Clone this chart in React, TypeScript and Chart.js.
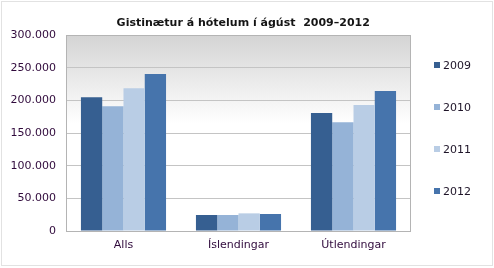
import React, { useEffect, useRef } from "react";
import { Chart, registerables } from "chart.js";

Chart.register(...registerables);

const TITLE = "Gistinætur á hótelum í ágúst  2009–2012";
const categories = ["Alls", "Íslendingar", "Útlendingar"];
const years = ["2009", "2010", "2011", "2012"];
const v2009 = [204600, 24500, 180600];
const v2010 = [190800, 24500, 166300];
const v2011 = [218400, 27000, 192900];
const v2012 = [240300, 26000, 214300];
const colors = ["#365f91", "#95b3d7", "#b9cde5", "#4674ac"];
const yMax = 300000;
const yStep = 50000;

const FONT = "'DejaVu Sans', Verdana, sans-serif";

function fmt(v: number): string {
  return String(Math.round(v)).replace(/\B(?=(\d{3})+(?!\d))/g, ".");
}

const framePlugin = {
  id: "frame",
  beforeDraw(chart: any) {
    const { ctx, chartArea } = chart;
    const { left, top, right, bottom } = chartArea;
    ctx.save();
    ctx.fillStyle = "#ffffff";
    ctx.fillRect(0, 0, chart.width, chart.height);
    ctx.strokeStyle = "#e2e2e2";
    ctx.lineWidth = 1;
    ctx.strokeRect(1.5, 1.5, chart.width - 3, chart.height - 4);
    const g = ctx.createLinearGradient(0, top, 0, bottom);
    g.addColorStop(0, "#d4d4d4");
    g.addColorStop(0.45, "#ffffff");
    g.addColorStop(1, "#ffffff");
    ctx.fillStyle = g;
    ctx.fillRect(left, top, right - left, bottom - top);
    ctx.restore();
  },
  afterDatasetsDraw(chart: any) {
    const { ctx, chartArea } = chart;
    const { left, top, right, bottom } = chartArea;
    ctx.save();
    ctx.strokeStyle = "#b4b4b4";
    ctx.lineWidth = 1;
    ctx.strokeRect(Math.round(left) + 0.5, Math.round(top) + 0.5, Math.round(right - left) - 1, Math.round(bottom - top));
    // legend
    ctx.font = "11px " + FONT;
    ctx.textBaseline = "middle";
    ctx.textAlign = "left";
    chart.data.datasets.forEach((ds: any, i: number) => {
      const y = top + 30 + i * 42;
      const x = right + 23;
      ctx.fillStyle = ds.backgroundColor;
      ctx.fillRect(x, y - 3, 6, 6);
      ctx.fillStyle = "#1e1428";
      ctx.fillText(ds.label, x + 9, y + 1);
    });
    ctx.restore();
  },
};

export default function App() {
  const ref = useRef<HTMLCanvasElement | null>(null);
  useEffect(() => {
    if (!ref.current) return;
    const series = [v2009, v2010, v2011, v2012];
    const chart = new Chart(ref.current, {
      type: "bar",
      data: {
        labels: categories,
        datasets: years.map((y, i) => ({
          label: y,
          data: series[i],
          backgroundColor: colors[i],
          borderWidth: 0,
          categoryPercentage: 0.74,
          barPercentage: 1,
        })),
      },
      options: {
        responsive: false,
        animation: false,
        devicePixelRatio: 1,
        layout: { padding: { left: 0.5, right: 8, top: 0, bottom: 7.8 } },
        plugins: {
          legend: { display: false },
          tooltip: { enabled: false },
          title: {
            display: true,
            text: TITLE,
            color: "#141414",
            font: { family: FONT, size: 11, weight: "bold", lineHeight: 1.2 },
            padding: { top: 16.5, bottom: 5.3 },
          },
        },
        scales: {
          x: {
            grid: { display: false, drawTicks: false },
            border: { display: false },
            ticks: {
              color: "#300a3c",
              font: { family: FONT, size: 11, lineHeight: 1.2 },
              padding: 8,
            },
          },
          y: {
            min: 0,
            max: yMax,
            grid: { color: "#c4c4c4", drawTicks: false },
            border: { display: false },
            ticks: {
              stepSize: yStep,
              color: "#300a3c",
              font: { family: FONT, size: 11, lineHeight: 1.2 },
              padding: 10,
              callback: (v: any) => fmt(Number(v)),
            },
          },
          legendSpace: {
            type: "linear",
            position: "right",
            display: true,
            grid: { display: false, drawTicks: false },
            border: { display: false },
            ticks: { display: false },
            afterFit: (scale: any) => {
              scale.width = 75;
            },
          },
        },
      },
      plugins: [framePlugin],
    });
    return () => chart.destroy();
  }, []);
  return (
    <div style={{ position: "fixed", left: 0, top: 0, width: 494, height: 268, background: "#fff" }}>
      <canvas ref={ref} width={494} height={268} style={{ display: "block" }} />
    </div>
  );
}
